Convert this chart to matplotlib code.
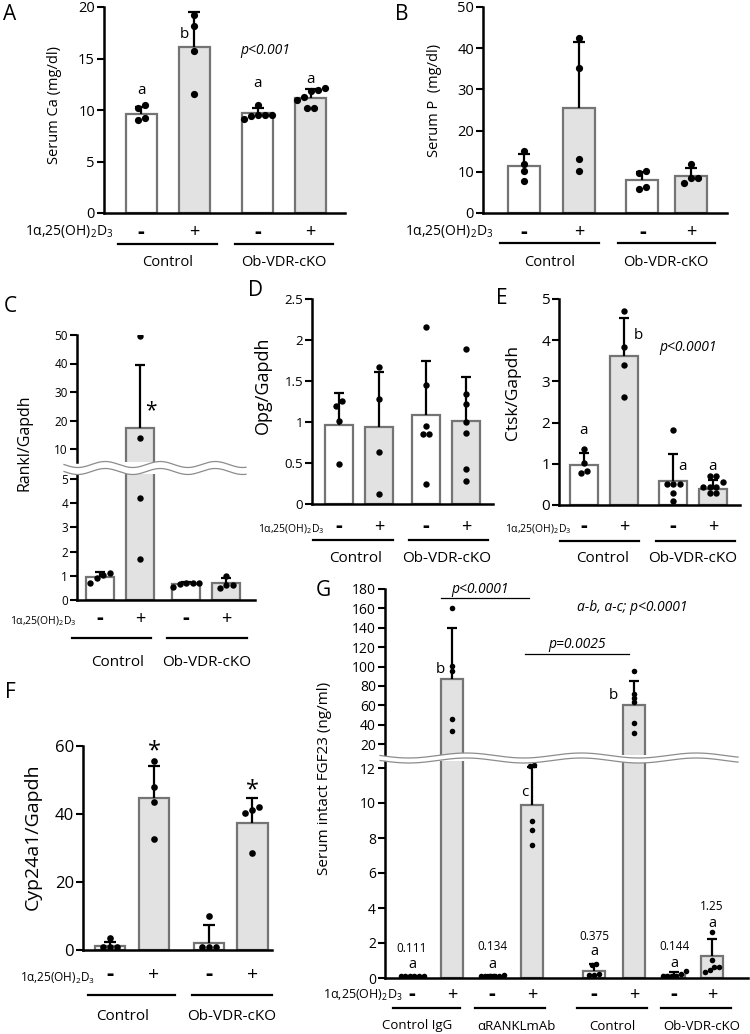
import numpy as np
import matplotlib
matplotlib.use('Agg')
import matplotlib.pyplot as plt
from matplotlib.patches import Polygon
from matplotlib.lines import Line2D
from matplotlib.ticker import FuncFormatter

plt.rcParams['font.family'] = ['Open Sans', 'DejaVu Sans']
plt.rcParams['mathtext.fontset'] = 'custom'
plt.rcParams['mathtext.rm'] = 'Open Sans'
plt.rcParams['mathtext.it'] = 'Open Sans:italic'
plt.rcParams['mathtext.bf'] = 'Open Sans:bold'

# ---------------- data ----------------
treatment = ['-', '+', '-', '+']
groups_ko = ['Control', 'Ob-VDR-cKO']
treat_label = r'1α,25(OH)$_2$D$_3$'

ca_mean = [9.6, 16.1, 9.7, 11.2]
ca_sd = [0.7, 3.45, 0.5, 0.8]
ca_pts = [[10.2, 10.5, 9.0, 9.2], [19.2, 18.2, 15.7, 11.6],
          [9.4, 9.5, 10.5, 9.5, 9.5, 9.1], [11.9, 11.8, 12.1, 11.0, 10.2, 10.2, 11.3]]
ca_letters = ['a', 'b', 'a', 'a']

p_mean = [11.4, 25.4, 8.0, 9.1]
p_sd = [2.85, 16.0, 1.9, 1.9]
p_pts = [[15.0, 11.8, 10.2, 7.8], [42.4, 35.3, 13.0, 10.2],
         [9.6, 10.2, 5.8, 6.3], [11.9, 7.2, 8.4, 8.4]]

rankl_mean = [0.97, 17.2, 0.68, 0.70]
rankl_sd = [0.2, 22.1, 0.08, 0.2]
rankl_pts = [[1.03, 1.13, 0.69, 0.9], [49.5, 13.7, 4.2, 1.7],
             [0.55, 0.72, 0.72, 0.72, 0.66], [0.99, 0.48, 0.62, 0.6]]

opg_mean = [0.96, 0.94, 1.09, 1.01]
opg_sd = [0.39, 0.67, 0.65, 0.54]
opg_pts = [[1.20, 1.26, 1.01, 0.49], [1.67, 1.28, 0.64, 0.12],
           [2.16, 1.45, 0.95, 0.85, 0.85, 0.24], [1.89, 1.34, 1.22, 1.0, 0.87, 0.43, 0.28]]

ctsk_mean = [0.97, 3.61, 0.59, 0.39]
ctsk_sd = [0.29, 0.92, 0.64, 0.21]
ctsk_pts = [[1.35, 1.02, 0.78, 0.83], [4.7, 3.83, 3.39, 2.61],
            [1.83, 0.5, 0.5, 0.5, 0.28, 0.1], [0.7, 0.7, 0.56, 0.44, 0.44, 0.44, 0.28, 0.28]]
ctsk_letters = ['a', 'b', 'a', 'a']

cyp_mean = [1.3, 44.7, 2.1, 37.4]
cyp_sd = [1.1, 9.5, 5.4, 7.3]
cyp_pts = [[3.4, 1.0, 1.0, 1.0], [55.7, 47.8, 43.4, 32.6],
           [10.1, 0.9, 0.9, 0.9], [42.2, 41.2, 40.2, 28.4]]

fgf_treatment = ['-', '+', '-', '+', '-', '+', '-', '+']
fgf_groups = ['Control IgG', 'αRANKLmAb', 'Control', 'Ob-VDR-cKO']
fgf_mean = [0.111, 87.0, 0.134, 9.9, 0.375, 60.7, 0.144, 1.25]
fgf_sd = [0.03, 52.3, 0.03, 2.16, 0.43, 24.5, 0.2, 0.96]
fgf_pts = [[0.14, 0.12, 0.1, 0.1, 0.12, 0.11], [160, 101, 95, 46, 33],
           [0.14, 0.13, 0.12, 0.14, 0.13, 0.15], [12.2, 12.1, 8.95, 8.45, 7.6],
           [0.8, 0.75, 0.2, 0.2, 0.22], [95, 72, 68, 63, 42, 31],
           [0.4, 0.22, 0.12, 0.12, 0.1, 0.1], [2.65, 1.05, 0.65, 0.62, 0.45, 0.35]]
fgf_letters = ['a', 'b', 'a', 'c', 'a', 'b', 'a', 'a']
fgf_values = ['0.111', '', '0.134', '', '0.375', '', '0.144', '1.25']

# ---------------- layout helpers ----------------
W, H = 750, 1034
fig = plt.figure(figsize=(7.5, 10.34), dpi=100)
EDGE = '#747474'
FILL = {'-': 'white', '+': '#e2e2e2'}
fmt = FuncFormatter(lambda v, p: f'{v:g}')


def px_box(l, t, r, b):
    return [l / W, 1 - b / H, (r - l) / W, (b - t) / H]


def make_ax(box, xlim, ylim, yticks, tick_fs, bottom=True):
    ax = fig.add_axes(px_box(*box))
    ax.set_xlim(xlim)
    ax.set_ylim(ylim)
    ax.set_yticks(yticks)
    ax.yaxis.set_major_formatter(fmt)
    ax.set_xticks([])
    for s in ['top', 'right']:
        ax.spines[s].set_visible(False)
    ax.spines['left'].set_linewidth(1.8)
    ax.spines['bottom'].set_linewidth(1.8)
    if not bottom:
        ax.spines['bottom'].set_visible(False)
    ax.tick_params(axis='y', length=5, width=1.5, labelsize=tick_fs, pad=1.5)
    ax.patch.set_alpha(0)
    return ax


def swarm(ax, x, vals, d):
    tr = ax.transData
    ys = np.array([tr.transform((x, v))[1] for v in vals])
    order = np.argsort(ys)
    clusters = []
    for i in order:
        if clusters and ys[i] - ys[clusters[-1][-1]] < d * 0.8:
            clusters[-1].append(i)
        else:
            clusters.append([i])
    ppu = tr.transform((1, 0))[0] - tr.transform((0, 0))[0]
    offs = np.zeros(len(vals))
    for c in clusters:
        n = len(c)
        for k, i in enumerate(c):
            offs[i] = (k - (n - 1) / 2) * d / ppu
    return offs


def draw_bars(ax, pos, means, sds, pts, treat, width, ms, capw, d, vmin=None):
    lo, hi = ax.get_ylim()
    floor = lo if vmin is None else vmin
    for x, m, s, t in zip(pos, means, sds, treat):
        if m + s < floor:
            continue
        ax.bar(x, m, width, color=FILL[t], edgecolor=EDGE, linewidth=1.6, zorder=2)
        ax.plot([x, x], [m, m + s], color='black', lw=1.6, zorder=3, solid_capstyle='butt')
        ax.plot([x], [m + s], marker='_', ms=capw, mew=1.6, color='black', zorder=3)
    for x, p in zip(pos, pts):
        p = np.asarray(p, float)
        vis = p[(p >= floor) & (p <= hi)]
        if len(vis) == 0:
            continue
        offs = swarm(ax, x, vis, d)
        ax.plot(x + offs, vis, 'o', color='black', ms=ms, mew=0, zorder=4)


def sign_text(ax, x, y, s, fs, tr):
    if s == '-':
        ax.text(x, y, '-', transform=tr, ha='center', va='center', fontsize=fs + 2,
                fontweight='bold', clip_on=False)
    else:
        ax.text(x, y, '+', transform=tr, ha='center', va='center', fontsize=fs,
                clip_on=False)


def under(ax, box, pos, treat, y_sign, y_line, y_grp, exts, groups, fs_sign, fs_grp,
          tl_x, tl_y, fs_tl, gdx=None):
    l, t, r, b = box
    h = b - t
    tr = ax.get_xaxis_transform()
    yf = lambda y: (b - y) / h
    ppu = ax.transData.transform((1, 0))[0] - ax.transData.transform((0, 0))[0]
    for x, s in zip(pos, treat):
        sign_text(ax, x, yf(y_sign), s, fs_sign, tr)
    for g, name in enumerate(groups):
        x0 = pos[2 * g] - exts[g][0]
        x1 = pos[2 * g + 1] + exts[g][1]
        ax.add_line(Line2D([x0, x1], [yf(y_line)] * 2, transform=tr, color='black',
                           lw=1.6, clip_on=False))
        dx = (gdx[g] / ppu) if gdx else 0
        ax.text((x0 + x1) / 2 + dx, yf(y_grp), name, transform=tr, ha='center',
                va='center', fontsize=fs_grp, clip_on=False)
    fig.text(tl_x / W, 1 - tl_y / H, treat_label, ha='right', va='center', fontsize=fs_tl)


def ylab(x, y, s, fs):
    fig.text(x / W, 1 - y / H, s, rotation=90, ha='center', va='center', fontsize=fs)


def letter(x, y, s):
    fig.text(x / W, 1 - y / H, s, ha='center', va='center', fontsize=15)


def wave(x0, x1, yc, amp, period, gap):
    xs = np.linspace(x0, x1, 400)
    ph = 2 * np.pi * (xs - x0) / period
    y_top = yc - gap / 2 + amp * np.sin(ph)
    y_bot = yc + gap / 2 + amp * np.sin(ph)
    poly = np.vstack([np.column_stack([xs / W, 1 - y_top / H]),
                      np.column_stack([xs[::-1] / W, 1 - y_bot[::-1] / H])])
    fig.add_artist(Polygon(poly, closed=True, facecolor='white', edgecolor='none',
                           transform=fig.transFigure, zorder=5))
    for yy in (y_top, y_bot):
        fig.add_artist(Line2D(xs / W, 1 - yy / H, color='#8c8c8c', lw=0.9,
                              transform=fig.transFigure, zorder=6))


# ---------------- Panel A ----------------
posA = [0, 1, 2.2, 3.2]
boxA = (104, 7, 345, 213)
axA = make_ax(boxA, (-0.70, 3.85), (0, 20), [0, 5, 10, 15, 20], 10.5)
draw_bars(axA, posA, ca_mean, ca_sd, ca_pts, treatment, 0.585, 5.2, 8, 7)
lab_y = [11.9, 17.3, 12.6, 13.0]
lab_dx = [0, -0.19, 0, 0]
for x, s, y, dx in zip(posA, ca_letters, lab_y, lab_dx):
    axA.text(x + dx, y, s, ha='center', va='center', fontsize=11)
axA.text(2.34, 15.8, 'p<0.001', ha='center', va='center', fontsize=10, style='italic')
under(axA, boxA, posA, treatment, 232, 244, 263, [(0.43, 0.43), (0.43, 0.43)], groups_ko,
      13, 10.5, 113, 232, 10)
ylab(55, 105, 'Serum Ca (mg/dl)', 10.5)
letter(10, 14, 'A')

# ---------------- Panel B ----------------
posB = [0, 1, 2.15, 3.04]
boxB = (483, 7, 727, 213)
axB = make_ax(boxB, (-0.745, 3.69), (0, 50), [0, 10, 20, 30, 40, 50], 10.5)
draw_bars(axB, posB, p_mean, p_sd, p_pts, treatment, 0.58, 5.2, 8, 7)
under(axB, boxB, posB, treatment, 232, 243, 263, [(0.44, 0.36), (0.45, 0.43)], groups_ko,
      13, 10.5, 493, 232, 10)
ylab(435, 100, 'Serum P  (mg/dl)', 10.5)
letter(402, 14, 'B')

# ---------------- Panel C (broken axis) ----------------
posC = [0, 1, 2.15, 3.15]
xlimC = (-0.575, 3.875)
boxC_top = (77, 335, 255, 462)
boxC_bot = (77, 474, 255, 600)
axCt = make_ax(boxC_top, xlimC, (10 - 13 / 2.85, 50), [10, 20, 30, 40, 50], 8.5, bottom=False)
axCb = make_ax(boxC_bot, xlimC, (0, 126 / 24.2), [0, 1, 2, 3, 4, 5], 8.5)
draw_bars(axCt, posC, rankl_mean, rankl_sd, rankl_pts, treatment, 0.68, 4.6, 7, 6.5, vmin=7)
draw_bars(axCb, posC, rankl_mean, rankl_sd, rankl_pts, treatment, 0.68, 4.6, 7, 6.5)
axCt.text(1.27, 23.5, '*', ha='center', va='center', fontsize=15)
wave(64, 246, 468, 3, 55, 7)
under(axCb, boxC_bot, posC, treatment, 619, 638, 663, [(0.7, 0.28), (0.48, 0.52)], groups_ko,
      13, 11, 77, 621, 7.5, gdx=[6, 0])
ylab(24, 443, 'Rankl/Gapdh', 11.5)
letter(10, 307, 'C')

# ---------------- Panel D ----------------
posD = [0, 1, 2.175, 3.175]
boxD = (312, 299, 493, 504)
axD = make_ax(boxD, (-0.675, 3.85), (0, 2.5), [0, 0.5, 1, 1.5, 2, 2.5], 9.5)
draw_bars(axD, posD, opg_mean, opg_sd, opg_pts, treatment, 0.68, 4.6, 7, 6.5)
under(axD, boxD, posD, treatment, 527, 540, 558, [(0.65, 0.35), (0.43, 0.55)], groups_ko,
      13, 11, 325, 529, 7.5, gdx=[3, -2])
ylab(263, 385, 'Opg/Gapdh', 13)
letter(256, 291, 'D')

# ---------------- Panel E ----------------
posE = [0, 1, 2.225, 3.225]
boxE = (559, 299, 740, 505)
axE = make_ax(boxE, (-0.625, 3.9), (0, 5), [0, 1, 2, 3, 4, 5], 11)
draw_bars(axE, posE, ctsk_mean, ctsk_sd, ctsk_pts, treatment, 0.68, 4.6, 7, 6.5)
lab_y = [1.82, 4.12, 0.93, 0.93]
lab_dx = [0, 0.35, 0.25, 0]
for x, s, y, dx in zip(posE, ctsk_letters, lab_y, lab_dx):
    axE.text(x + dx, y, s, ha='center', va='center', fontsize=11)
axE.text(2.6, 3.83, 'p<0.0001', ha='center', va='center', fontsize=10, style='italic')
under(axE, boxE, posE, treatment, 527, 541, 558, [(0.6, 0.375), (0.425, 0.55)], groups_ko,
      13, 11, 572, 529, 7.5, gdx=[3, -3])
ylab(513, 393, 'Ctsk/Gapdh', 12.5)
letter(502, 298, 'E')

# ---------------- Panel F ----------------
posF = [0, 1, 2.25, 3.23]
boxF = (83, 746, 272, 950)
axF = make_ax(boxF, (-0.614, 3.68), (0, 60), [0, 20, 40, 60], 12)
draw_bars(axF, posF, cyp_mean, cyp_sd, cyp_pts, treatment, 0.70, 4.8, 8, 7)
axF.text(posF[1], 58.5, '*', ha='center', va='center', fontsize=17)
axF.text(posF[3], 47.0, '*', ha='center', va='center', fontsize=17)
under(axF, boxF, posF, treatment, 975, 995, 1016, [(0.5, 0.48), (0.39, 0.45)], groups_ko,
      14, 11, 95, 978, 8.5, gdx=[-9, 0])
ylab(33, 837, 'Cyp24a1/Gapdh', 14)
letter(10, 693, 'F')

# ---------------- Panel G (broken axis) ----------------
posG = [0, 1, 2, 3, 4.55, 5.55, 6.55, 7.5]
xlimG = (-0.675, 8.4)
sc = 155 / 160
boxG_top = (385, 589, 748, 755)
boxG_bot = (385, 761, 748, 978)
axGt = make_ax(boxG_top, xlimG, (20 - 11 / sc, 180), list(range(20, 181, 20)), 10, bottom=False)
axGb = make_ax(boxG_bot, xlimG, (0, 217 / 17.5), [0, 2, 4, 6, 8, 10, 12], 10)
draw_bars(axGt, posG, fgf_mean, fgf_sd, fgf_pts, fgf_treatment, 0.55, 4.0, 7, 4.6, vmin=16)
draw_bars(axGb, posG, fgf_mean, fgf_sd, fgf_pts, fgf_treatment, 0.55, 4.0, 7, 4.6)
wave(380, 738, 758, 2.5, 115, 5)
# letters / values
axGt.text(0.72, 97, fgf_letters[1], ha='center', va='center', fontsize=11)
axGt.text(5.03, 70, fgf_letters[5], ha='center', va='center', fontsize=11)
axGb.text(2.83, 10.6, fgf_letters[3], ha='center', va='center', fontsize=11)
val_y = [1.7, None, 1.8, None, 2.36, None, 1.8, 4.07]
let_y = [0.8, None, 0.8, None, 1.5, None, 0.85, 3.1]
for x, v, vy, ly, s in zip(posG, fgf_values, val_y, let_y, fgf_letters):
    if vy is None:
        continue
    axGb.text(x, vy, v, ha='center', va='center', fontsize=8.5)
    axGb.text(x, ly, s, ha='center', va='center', fontsize=10.5)
axGt.text(1.7, 179, 'p<0.0001', ha='center', va='center', fontsize=10, style='italic')
axGt.plot([0.725, 2.93], [170.7, 170.7], color='black', lw=0.9, clip_on=False)
axGt.text(4.13, 123, 'p=0.0025', ha='center', va='center', fontsize=10, style='italic')
axGt.plot([2.83, 5.43], [113, 113], color='black', lw=0.9, clip_on=False)
axGt.text(5.5, 160.4, 'a-b, a-c; p<0.0001', ha='center', va='center', fontsize=10,
          style='italic')
under(axGb, boxG_bot, posG, fgf_treatment, 995, 1008, 1026,
      [(0.48, 0.2), (0.43, 0.33), (0.43, 0.33), (0.33, 0.48)], fgf_groups,
      13, 9.5, 403, 995, 9, gdx=[-9, 6, 0, 6])
ylab(325, 778, 'Serum intact FGF23 (ng/ml)', 11)
letter(323, 591, 'G')

fig.savefig('out.png', dpi=100)
